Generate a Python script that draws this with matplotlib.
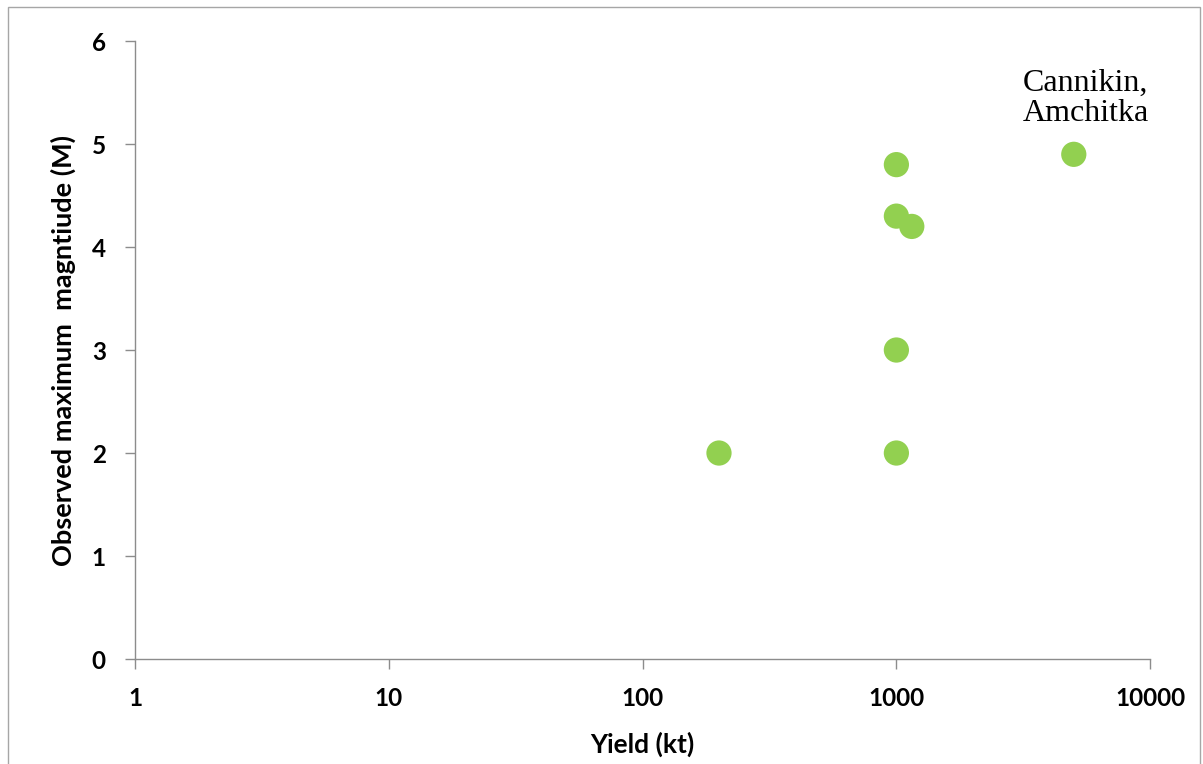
import matplotlib.pyplot as plt
from matplotlib.patches import Rectangle

# yield (kt) vs observed maximum magnitude
yield_kt = [200, 1000, 1000, 1000, 1000, 1150, 5000]
magnitude = [2.0, 2.0, 3.0, 4.3, 4.8, 4.2, 4.9]
label_text = "Cannikin,\nAmchitka"
label_index = 6

x_ticks = [1, 10, 100, 1000, 10000]
y_ticks = [0, 1, 2, 3, 4, 5, 6]

axis_grey = "#8c8c8c"
green = "#92d050"

plt.rcParams['font.family'] = ['Lato', 'DejaVu Sans']

fig = plt.figure(figsize=(12.03, 7.64), dpi=100)
ax = fig.add_axes([0.1122, 0.1374, 0.8439, 0.8089])

ax.scatter(yield_kt, magnitude, s=330, color=green, edgecolors='none', zorder=3)

ax.set_xscale('log')
ax.set_xlim(1, 10000)
ax.set_ylim(0, 6)
ax.set_xticks(x_ticks)
ax.set_xticklabels([str(t) for t in x_ticks])
ax.set_yticks(y_ticks)
ax.minorticks_off()

for side in ['top', 'right']:
    ax.spines[side].set_visible(False)
for side in ['left', 'bottom']:
    ax.spines[side].set_color(axis_grey)
    ax.spines[side].set_linewidth(1.0)

ax.tick_params(axis='both', colors=axis_grey, length=7, width=1.0,
               labelcolor='black', labelsize=17.5)
ax.tick_params(axis='x', pad=13)
ax.tick_params(axis='y', pad=14)
for lbl in ax.get_xticklabels() + ax.get_yticklabels():
    lbl.set_fontweight('bold')

ax.set_xlabel("Yield (kt)", fontsize=19, fontweight='bold', labelpad=16)
ax.set_ylabel("Observed maximum  magntiude (M)", fontsize=19.5, fontweight='bold',
              labelpad=11)

ax.annotate(label_text, xy=(yield_kt[label_index], magnitude[label_index]),
            xytext=(-37, 19), textcoords='offset points', ha='left', va='bottom',
            fontsize=23, family=['Liberation Serif', 'DejaVu Serif'],
            linespacing=1.05)

# thin frame round the chart area
fig.patches.append(Rectangle((8 / 1203, -0.01), 1 - 11 / 1203, 1 - 7 / 764 + 0.01,
                             transform=fig.transFigure, fill=False,
                             edgecolor='#a6a6a6', linewidth=1.0))

fig.savefig("out.png", dpi=100)
